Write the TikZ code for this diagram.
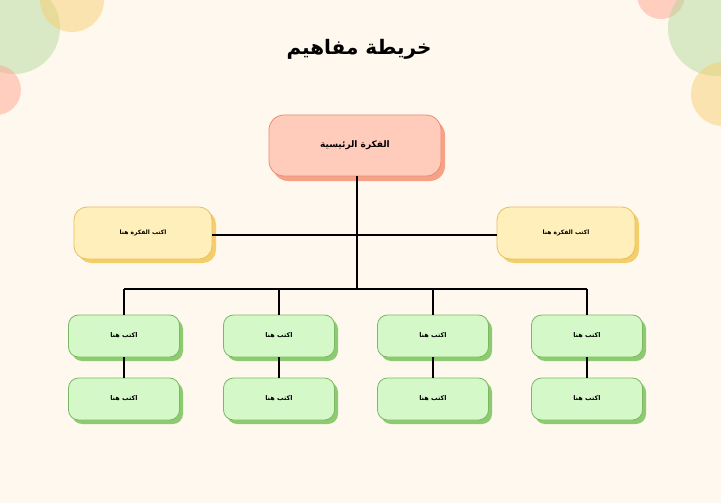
\documentclass[tikz,border=0pt]{standalone}
\usepackage{fontspec}
\newfontfamily\arabicfont[Script=Arabic]{DejaVu Sans}
\TeXXeTstate=1
\usetikzlibrary{shadows}
\definecolor{bgc}{HTML}{FFF8EF}
\definecolor{cgreen}{HTML}{B5D99C}
\definecolor{cyellow}{HTML}{F8D070}
\definecolor{cred}{HTML}{FFA590}
\definecolor{mainfill}{HTML}{FFCCBC}
\definecolor{maindraw}{HTML}{EE8A70}
\definecolor{mainshadow}{HTML}{F5A286}
\definecolor{yfill}{HTML}{FFEFBA}
\definecolor{ydraw}{HTML}{E8BE5E}
\definecolor{yshadow}{HTML}{F5CE6C}
\definecolor{gfill}{HTML}{D5F8C8}
\definecolor{gdraw}{HTML}{7CB864}
\definecolor{gshadow}{HTML}{8CCB70}
\tikzset{
  blob/.style={fill opacity=0.5},
  mainbox/.style={draw=maindraw, fill=mainfill, line width=0.8pt, rounded corners=15pt,
    minimum width=172pt, minimum height=61pt, inner sep=0pt,
    general shadow={fill=mainshadow, shadow xshift=4pt, shadow yshift=-5pt},
    font=\arabicfont\fontsize{9}{11}\selectfont\bfseries},
  ybox/.style={draw=ydraw, fill=yfill, line width=0.8pt, rounded corners=13pt,
    minimum width=138pt, minimum height=52pt, inner sep=0pt,
    general shadow={fill=yshadow, shadow xshift=4pt, shadow yshift=-4pt},
    font=\arabicfont\fontsize{6}{8}\selectfont\bfseries},
  gbox/.style={draw=gdraw, fill=gfill, line width=0.8pt, rounded corners=10pt,
    minimum width=111pt, minimum height=42pt, inner sep=0pt,
    general shadow={fill=gshadow, shadow xshift=3.5pt, shadow yshift=-4pt},
    font=\arabicfont\fontsize{6.5}{8}\selectfont\bfseries},
  link/.style={draw=black, line width=1.6pt},
}
\begin{document}
\begin{tikzpicture}[x=1pt, y=-1pt]
\fill[bgc] (0,0) rectangle (721,503);
\useasboundingbox (0,0) rectangle (721,503);
% decorative circles
\begin{scope}
\clip (0,0) rectangle (721,503);
\fill[cgreen, blob] (14,28) circle (46);
\fill[cyellow, blob] (72,0) circle (32);
\fill[cred, blob] (-4,90) circle (25);
\fill[cred, blob] (661,-5) circle (24);
\fill[cgreen, blob] (716,28) circle (48);
\fill[cyellow, blob] (723,94) circle (32);
\end{scope}
% title
\node[font=\arabicfont\fontsize{20}{24}\selectfont\bfseries] (title) at (359,49) {\beginR خريطة مفاهيم\endR};
% nodes
\node[mainbox] (main) at (355,145.5) {\beginR الفكرة الرئيسية\endR};
\node[ybox] (yl) at (143,233) {\beginR اكتب الفكرة هنا\endR};
\node[ybox] (yr) at (566,233) {\beginR اكتب الفكرة هنا\endR};
\node[gbox] (g1) at (124,336) {\beginR اكتب هنا\endR};
\node[gbox] (g2) at (279,336) {\beginR اكتب هنا\endR};
\node[gbox] (g3) at (433,336) {\beginR اكتب هنا\endR};
\node[gbox] (g4) at (587,336) {\beginR اكتب هنا\endR};
\node[gbox] (h1) at (124,399) {\beginR اكتب هنا\endR};
\node[gbox] (h2) at (279,399) {\beginR اكتب هنا\endR};
\node[gbox] (h3) at (433,399) {\beginR اكتب هنا\endR};
\node[gbox] (h4) at (587,399) {\beginR اكتب هنا\endR};
% connectors
\coordinate (trunk) at (357,289);
\coordinate (side) at (357,235);
\draw[link] (yl.east |- side) -- (yr.west |- side);
\draw[link] (main.south -| trunk) -- (trunk);
\draw[link] (g1.north |- trunk) -- (g4.north |- trunk);
\foreach \g in {g1,g2,g3,g4}{
  \draw[link] (\g.north |- trunk) -- (\g.north);
}
\foreach \g/\h in {g1/h1,g2/h2,g3/h3,g4/h4}{
  \draw[link] (\g.south) -- (\h.north);
}
\end{tikzpicture}
\end{document}
